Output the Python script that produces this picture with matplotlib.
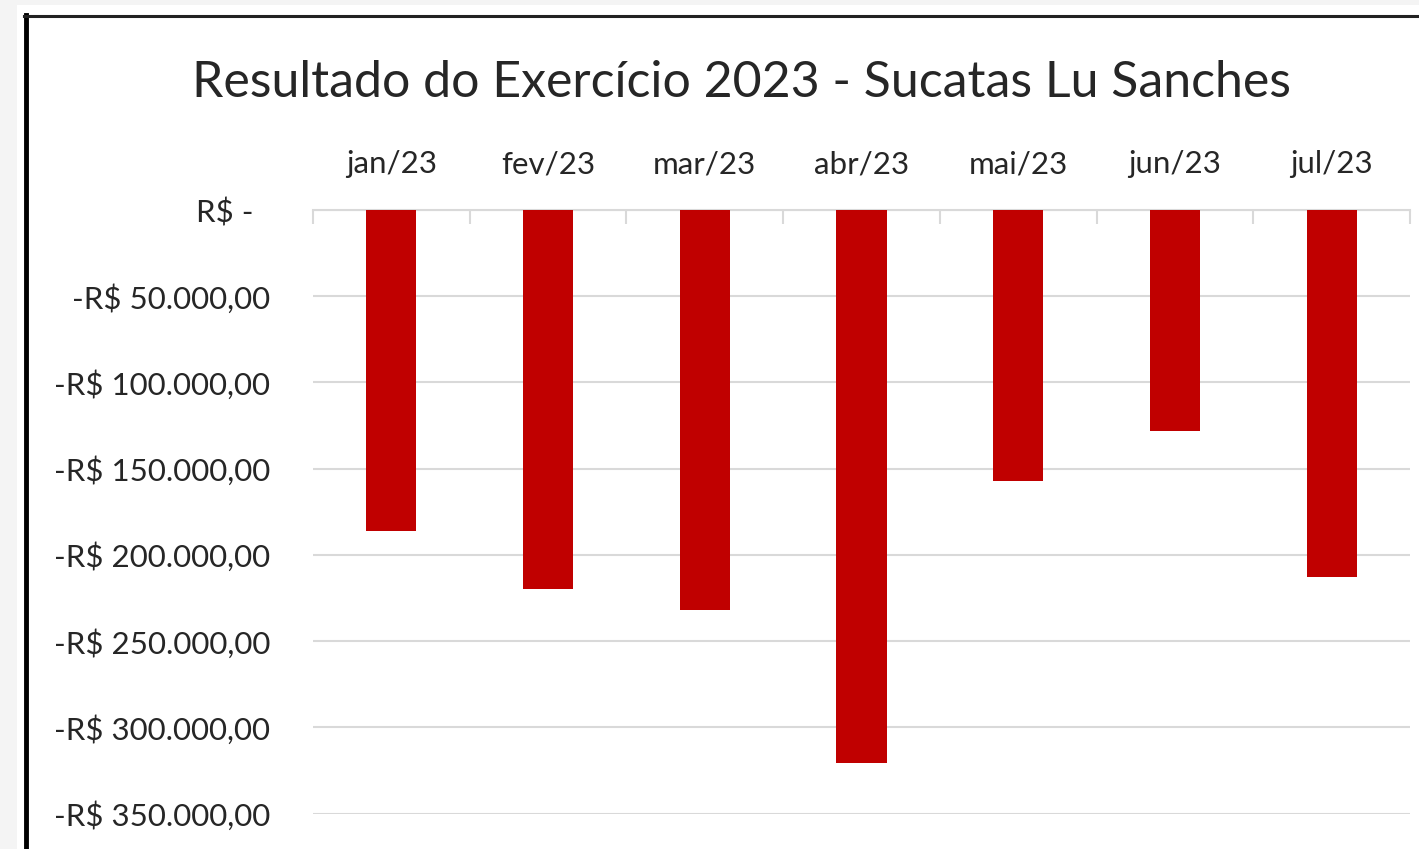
import matplotlib.pyplot as plt
from matplotlib.patches import Rectangle
from matplotlib.lines import Line2D

meses = ['jan/23', 'fev/23', 'mar/23', 'abr/23', 'mai/23', 'jun/23', 'jul/23']
resultado = [-186000, -220000, -232000, -321000, -157000, -128000, -213000]
ticks_y = [0, -50000, -100000, -150000, -200000, -250000, -300000, -350000]
rotulos_y = ['R$ -  ', '-R$ 50.000,00', '-R$ 100.000,00', '-R$ 150.000,00',
             '-R$ 200.000,00', '-R$ 250.000,00', '-R$ 300.000,00', '-R$ 350.000,00']

plt.rcParams['font.family'] = ['Lato', 'DejaVu Sans']
cor_texto = '#262626'
cor_grade = '#d9d9d9'

W, H = 1419, 849
fig = plt.figure(figsize=(W / 100, H / 100), dpi=100)
fig.patch.set_facecolor('#f4f4f4')

# caixa branca do grafico (coordenadas em pixels)
fig.patches.append(Rectangle((17 / W, 0), (W - 17) / W, (H - 5) / H,
                             transform=fig.transFigure, facecolor='white',
                             edgecolor='none', zorder=-1))
fig.lines.append(Line2D([26 / W, 26 / W], [0, 1 - 15 / H], transform=fig.transFigure,
                        color='black', lw=3.5))
fig.lines.append(Line2D([24 / W, 1], [1 - 15.5 / H, 1 - 15.5 / H], transform=fig.transFigure,
                        color='#222222', lw=2.2))

left, right, top, bottom = 313, 1410, 210, 813.5
ax = fig.add_axes([left / W, 1 - bottom / H, (right - left) / W, (bottom - top) / H])
ax.set_facecolor('none')

x = range(len(meses))
ax.bar(x, resultado, width=0.32, color='#c00000', zorder=3)

ax.set_xlim(-0.5, len(meses) - 0.5)
ax.set_ylim(-350000, 0)
ax.set_yticks(ticks_y)
ax.set_yticklabels(rotulos_y, fontsize=22.5, color=cor_texto)
ax.tick_params(axis='y', length=0, pad=31)
ax.grid(axis='y', color=cor_grade, lw=1.5, zorder=0)

ax.xaxis.tick_top()
ax.set_xticks(list(x))
ax.set_xticklabels(meses, fontsize=22.5, color=cor_texto)
ax.set_xticks([i - 0.5 for i in range(len(meses) + 1)], minor=True)
ax.tick_params(axis='x', which='major', length=0, pad=23)
ax.tick_params(axis='x', which='minor', direction='in', length=10, width=1.5, color=cor_grade)

for lado in ['left', 'right', 'bottom']:
    ax.spines[lado].set_visible(False)
ax.spines['top'].set_color(cor_grade)
ax.spines['top'].set_linewidth(1.5)

fig.text(741 / W, 1 - 83 / H, 'Resultado do Exercício 2023 - Sucatas Lu Sanches',
         ha='center', va='center', fontsize=36, color=cor_texto)

fig.savefig('out.png', dpi=100, facecolor=fig.get_facecolor())
